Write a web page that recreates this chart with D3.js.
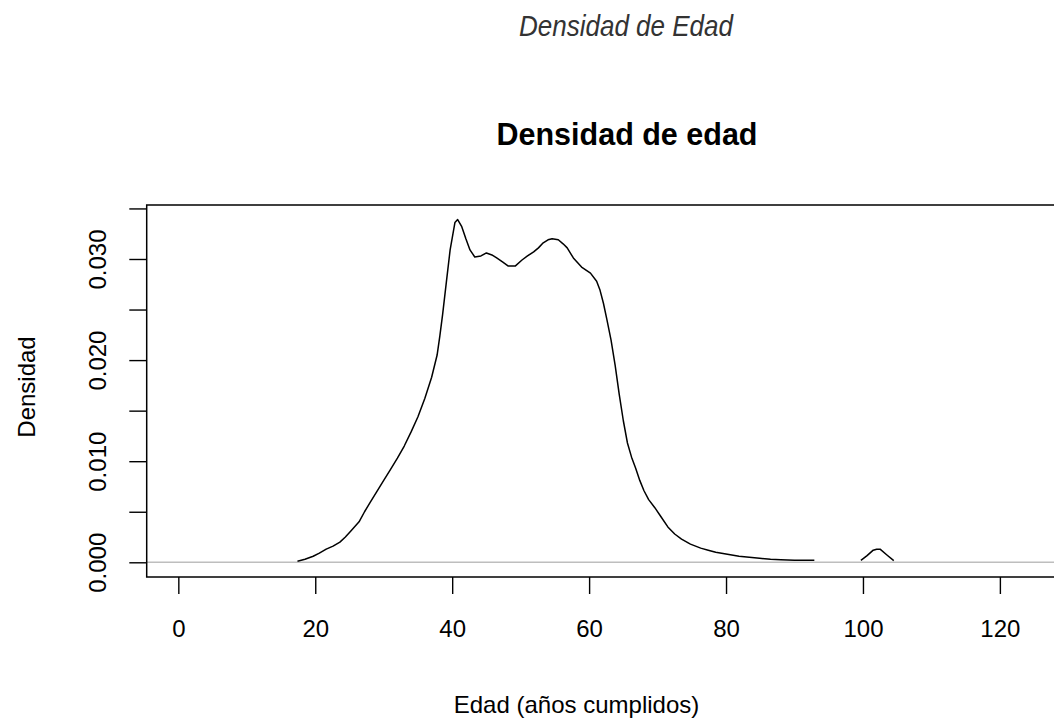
<!DOCTYPE html>
<html>
<head>
<meta charset="utf-8">
<script src="https://cdn.jsdelivr.net/npm/d3@7"></script>
<style>
  html, body { margin: 0; padding: 0; background: #fff; }
  svg { display: block; }
  text { font-family: "Liberation Sans", Arial, sans-serif; }
</style>
</head>
<body>
<svg id="chart" width="1054" height="720"></svg>
<script>
// ---- Data ----
const captionText = "Densidad de Edad";
const titleText = "Densidad de edad";
const xLabel = "Edad (años cumplidos)";
const yLabel = "Densidad";

const xTicks = [0, 20, 40, 60, 80, 100, 120];
const yTicks = [0, 0.005, 0.010, 0.015, 0.020, 0.025, 0.030, 0.035];
const yTickLabels = ["0.000", "", "0.010", "", "0.020", "", "0.030", ""];

// Main density curve (age, density); null marks the gap in the line
const ages = [17.4, 18.5, 19.7, 20.6, 21.6, 22.6, 23.6, 24.4, 25.2, 26.4, 27.2, 28.0, 28.9, 30.0,
  31.0, 32.0, 33.0, 34.0, 35.0, 36.0, 37.0, 37.8, 38.2, 38.6, 39.2, 39.7, 40.4, 40.8, 41.4,
  42.0, 42.6, 43.3, 44.2, 45.0, 45.8, 46.5, 47.4, 48.2, 49.2, 50.2, 51.0, 51.9, 52.6, 53.3,
  54.0, 54.6, 55.5, 56.2, 56.8, 57.7, 58.9, 60.2, 61.1, 61.6, 62.1, 62.6, 63.2, 63.8, 64.4,
  65.0, 65.6, 66.2, 66.8, 67.4, 68.0, 68.7, 69.6, 70.4, 71.5, 72.5, 73.5, 74.8, 76.3, 77.4,
  78.5, 80.2, 81.9, 83.4, 84.9, 86.5, 88.0, 90.0, 92.9,
  null,
  99.7, 100.6, 101.5, 102.0, 102.5, 103.5, 104.5];
const density = [0.0001, 0.0003, 0.0006, 0.0009, 0.0013, 0.0016, 0.0020, 0.0025, 0.0031, 0.0040, 0.0050, 0.0059, 0.0069, 0.0081,
  0.0092, 0.0103, 0.0115, 0.0129, 0.0144, 0.0162, 0.0183, 0.0205, 0.0224, 0.0245, 0.0280, 0.0309, 0.0336, 0.0339, 0.0332,
  0.0320, 0.0309, 0.0302, 0.0303, 0.0306, 0.0304, 0.0301, 0.0297, 0.0293, 0.0293, 0.0299, 0.0303, 0.0307, 0.0311, 0.0316,
  0.0319, 0.0320, 0.0319, 0.0315, 0.0311, 0.0301, 0.0292, 0.0286, 0.0278, 0.0269, 0.0256, 0.0240, 0.0220, 0.0195, 0.0166,
  0.0140, 0.0118, 0.0104, 0.0093, 0.0081, 0.0071, 0.0062, 0.0054, 0.0046, 0.0035, 0.0028, 0.0023, 0.0018, 0.0014, 0.0012,
  0.0010, 0.0008, 0.0006, 0.0005, 0.0004, 0.0003, 0.00025, 0.0002, 0.0002,
  null,
  0.0002, 0.00066, 0.0012, 0.0013, 0.0013, 0.00072, 0.00016];

// ---- Layout ----
const svg = d3.select("#chart");
const box = { left: 146.7, right: 1106, top: 205, bottom: 577 };

const x = d3.scaleLinear().domain([-4.62, 135.5]).range([box.left, box.right]);
const y = d3.scaleLinear().domain([-0.001454, 0.03534]).range([box.bottom, box.top]);

// Caption (italic, top)
svg.append("text")
  .attr("x", 626).attr("y", 36)
  .attr("text-anchor", "middle")
  .attr("font-style", "italic")
  .attr("font-size", 30)
  .attr("fill", "#333")
  .attr("textLength", 214)
  .attr("lengthAdjust", "spacingAndGlyphs")
  .text(captionText);

// Title
svg.append("text")
  .attr("x", 627).attr("y", 145)
  .attr("text-anchor", "middle")
  .attr("font-weight", "bold")
  .attr("font-size", 30.5)
  .attr("fill", "#000")
  .text(titleText);

// Zero reference line (gray)
svg.append("line")
  .attr("x1", box.left).attr("x2", box.right)
  .attr("y1", y(0)).attr("y2", y(0))
  .attr("stroke", "#bebebe").attr("stroke-width", 1.5);

// Density curve
const line = d3.line()
  .defined((d, i) => ages[i] !== null && density[i] !== null)
  .x((d, i) => x(ages[i]))
  .y((d, i) => y(density[i]));
svg.append("path")
  .datum(ages)
  .attr("d", line)
  .attr("fill", "none")
  .attr("stroke", "#000")
  .attr("stroke-width", 1.5)
  .attr("stroke-linejoin", "round");

// Box
svg.append("rect")
  .attr("x", box.left).attr("y", box.top)
  .attr("width", box.right - box.left).attr("height", box.bottom - box.top)
  .attr("fill", "none").attr("stroke", "#000").attr("stroke-width", 1.5);

// X axis
const xAxis = d3.axisBottom(x).tickValues(xTicks).tickSize(17).tickPadding(43).tickFormat(d3.format("d"));
const gx = svg.append("g").attr("transform", `translate(0,${box.bottom})`).call(xAxis);
gx.select(".domain").remove();
gx.selectAll(".tick line").attr("stroke", "#000").attr("stroke-width", 1.4);
gx.selectAll(".tick text").attr("font-size", 24).attr("font-family", "Liberation Sans, Arial, sans-serif").attr("fill", "#000").attr("dy", 0);

// Y axis
const yAxis = d3.axisLeft(y).tickValues(yTicks).tickSize(17.4)
  .tickFormat((d, i) => yTickLabels[i]);
const gy = svg.append("g").attr("transform", `translate(${box.left},0)`).call(yAxis);
gy.select(".domain").remove();
gy.selectAll(".tick line").attr("stroke", "#000").attr("stroke-width", 1.4);
gy.selectAll(".tick text")
  .attr("font-size", 24).attr("font-family", "Liberation Sans, Arial, sans-serif").attr("fill", "#000")
  .attr("text-anchor", "middle")
  .attr("x", 0).attr("dy", 0)
  .attr("transform", `translate(${106 - box.left},0) rotate(-90)`);

// Axis titles
svg.append("text")
  .attr("x", 576.5).attr("y", 713)
  .attr("text-anchor", "middle")
  .attr("font-size", 24).attr("fill", "#000")
  .text(xLabel);

svg.append("text")
  .attr("transform", "translate(35,387) rotate(-90)")
  .attr("text-anchor", "middle")
  .attr("font-size", 24).attr("fill", "#000")
  .text(yLabel);
</script>
</body>
</html>
